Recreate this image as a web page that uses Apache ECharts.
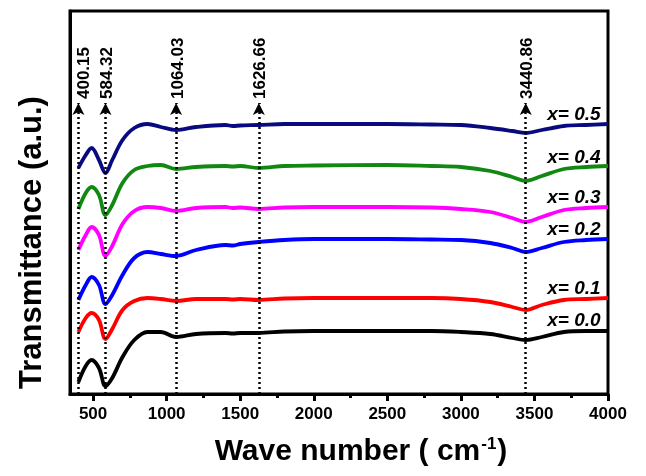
<!DOCTYPE html>
<html><head><meta charset="utf-8">
<script src="https://cdn.jsdelivr.net/npm/echarts@6/dist/echarts.min.js"></script>
<style>html,body{margin:0;padding:0;background:#fff}#c{width:646px;height:476px}</style>
</head><body><div id="c"></div>
<script>
// Wave numbers (cm-1) shared by all spectra
const waveNumbers = [400, 450, 490, 540, 584, 630, 700, 780, 870, 960, 1064, 1200, 1400, 1450, 1500, 1626, 1800, 2000, 2500, 2800, 3000, 3200, 3350, 3440, 3550, 3700, 3850, 4000];
// Transmittance (a.u., offset stacked) per composition
const x00 = [12, 28, 34, 26, 8, 16, 37, 54, 62, 62, 57, 60, 61, 60.5, 61, 61, 62.5, 63, 63, 63, 62, 60, 56, 54, 57, 62, 63, 63];
const x01 = [62, 76, 81, 74, 55, 65, 84, 93, 96, 95, 93, 95, 95, 94.5, 95, 94, 95.5, 96, 96, 96, 95, 92, 87, 84, 89, 94, 95, 96];
const x02 = [94, 109, 117, 109, 90, 99, 119, 136, 142, 140, 138, 144, 149, 148.5, 150, 152, 154, 155, 155, 154.5, 154, 151, 146, 142, 146, 152, 154, 155];
const x03 = [144, 159, 167, 159, 138, 148, 170, 183, 187, 186, 183, 186, 187, 186, 186.5, 185, 186.5, 187, 187, 186.5, 185, 182, 176, 172, 177, 184, 186, 187];
const x04 = [185, 201, 207, 199, 179, 189, 211, 224, 228, 229, 225, 227, 228, 227.5, 228, 226, 228, 228.5, 229, 228, 227, 223, 217, 213, 218, 225, 227, 228];
const x05 = [226, 239, 246, 234, 221, 234, 254, 266, 270, 267, 264, 267, 269, 268, 268.5, 269, 270, 270, 270, 269.5, 269, 266, 263, 261, 264, 268, 269, 270];
const seriesNames = ['x= 0.0', 'x= 0.1', 'x= 0.2', 'x= 0.3', 'x= 0.4', 'x= 0.5'];
const seriesValues = [x00, x01, x02, x03, x04, x05];
const nameLabelY = [73, 105, 164, 196.5, 236, 279];
const peaks = [400.15, 584.32, 1064.03, 1626.66, 3440.86];
const xTickLabels = [500, 1000, 1500, 2000, 2500, 3000, 3500, 4000];
const xMinorTicks = [750, 1250, 1750, 2250, 2750, 3250, 3750];

const colors = ['#000000', '#ff0000', '#0000ff', '#ff00ff', '#118811', '#0a0a80'];
const FONT = 'Liberation Sans, Arial, sans-serif';
const X_MIN = 343, X_MAX = 4000, Y_MIN = 0, Y_MAX = 383;
const ARROW_TOP = 291, PEAK_LABEL_Y = 295, NAME_LABEL_X = 3950;

const chart = echarts.init(document.getElementById('c'), null, {renderer: 'canvas'});

const lineSeries = seriesValues.map((vals, k) => ({
  name: seriesNames[k],
  type: 'line',
  data: waveNumbers.map((w, i) => [w, vals[i]]),
  smooth: 0.35,
  showSymbol: false,
  lineStyle: {color: colors[k], width: 3.8},
  z: 3
}));

const nameLabels = {
  type: 'scatter',
  symbolSize: 0,
  itemStyle: {opacity: 1},
  data: seriesNames.map((n, k) => ({value: [NAME_LABEL_X, nameLabelY[k]], name: n})),
  label: {
    show: true, position: 'inside', align: 'right', verticalAlign: 'middle',
    formatter: p => p.name,
    fontFamily: FONT, fontSize: 19, fontWeight: 'bold', fontStyle: 'italic', color: '#000',
    textBorderWidth: 0
  },
  silent: true, z: 5
};

const peakSeries = {
  type: 'scatter',
  symbolSize: 0,
  itemStyle: {opacity: 1},
  data: peaks.map(p => ({value: [p + (p < 450 ? 40 : 12), PEAK_LABEL_Y], name: p.toFixed(2)})),
  label: {
    show: true, position: 'inside', rotate: 90, align: 'left', verticalAlign: 'middle',
    formatter: p => p.name,
    fontFamily: FONT, fontSize: 17, fontWeight: 'bold', color: '#000', opacity: 1,
    textBorderWidth: 0
  },
  markLine: {
    silent: true,
    symbol: ['none', 'arrow'],
    symbolSize: [9, 12],
    label: {show: false},
    lineStyle: {color: '#000', type: [2, 3], width: 2.5, opacity: 1},
    data: peaks.map(p => [{coord: [p, Y_MIN]}, {coord: [p, ARROW_TOP]}]),
    animation: false
  },
  silent: true, z: 4
};

chart.setOption({
  animation: false,
  backgroundColor: '#fff',
  grid: {left: 70, right: 38, top: 11, bottom: 82, show: true, borderColor: '#000', borderWidth: 3, containLabel: false},
  xAxis: [{
    type: 'value', min: X_MIN, max: X_MAX,
    name: '{a|Wave number ( cm}{b|-1}{a|)}',
    nameLocation: 'middle', nameGap: 42,
    nameTextStyle: {
      padding: [0, 0, 0, 44],
      rich: {
        a: {fontFamily: FONT, fontSize: 30, fontWeight: 'bold', color: '#000'},
        b: {fontFamily: FONT, fontSize: 17, fontWeight: 'bold', color: '#000', verticalAlign: 'top', padding: [0, 1, 14, 1]}
      }
    },
    axisLine: {show: true, lineStyle: {color: '#000', width: 3}},
    axisTick: {show: true, customValues: xTickLabels, length: 7, lineStyle: {color: '#000', width: 3}},
    axisLabel: {show: true, customValues: xTickLabels, margin: 12, formatter: v => String(v), fontFamily: FONT, fontSize: 17, fontWeight: 'bold', color: '#000'},
    splitLine: {show: false}
  }, {
    type: 'value', min: X_MIN, max: X_MAX, position: 'bottom', gridIndex: 0,
    axisLine: {show: false},
    axisTick: {show: true, customValues: xMinorTicks, length: 4, lineStyle: {color: '#000', width: 3}},
    axisLabel: {show: false},
    splitLine: {show: false}
  }],
  yAxis: {
    type: 'value', min: Y_MIN, max: Y_MAX,
    name: 'Transmittance (a.u.)',
    nameLocation: 'middle', nameGap: 22,
    nameTextStyle: {fontFamily: FONT, fontSize: 31, fontWeight: 'bold', color: '#000', padding: [0, 80, 0, 0]},
    axisLine: {show: true, lineStyle: {color: '#000', width: 3}},
    axisTick: {show: false},
    axisLabel: {show: false},
    splitLine: {show: false}
  },
  series: [...lineSeries, nameLabels, peakSeries]
});
</script></body></html>
